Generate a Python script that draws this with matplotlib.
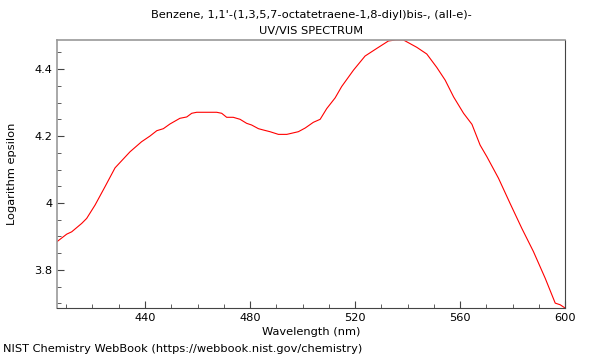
import numpy as np
import matplotlib
matplotlib.use("Agg")
import matplotlib.pyplot as plt
from matplotlib.ticker import MultipleLocator

# spectrum
wavelength = [406.4, 410.2, 412.1, 415.9, 417.8, 421.0, 424.8, 428.6, 434.3, 438.7,
              441.9, 444.5, 447.0, 449.5, 453.3, 455.9, 457.8, 459.7, 467.3, 469.2,
              471.1, 473.6, 476.2, 478.7, 480.6, 483.2, 485.1, 487.6, 490.8, 494.0,
              498.4, 501.0, 504.1, 506.7, 509.2, 512.4, 514.9, 519.4, 523.8, 528.3,
              532.7, 535.5, 538.4, 543.5, 547.3, 551.1, 554.3, 557.5, 561.3, 564.5,
              567.6, 570.2, 574.6, 579.0, 583.5, 587.9, 592.4, 596.2, 598.1, 600.0]
log_eps = [3.884, 3.907, 3.914, 3.939, 3.954, 3.994, 4.049, 4.105, 4.153, 4.183,
           4.200, 4.216, 4.222, 4.236, 4.253, 4.257, 4.268, 4.271, 4.271, 4.268,
           4.256, 4.256, 4.250, 4.238, 4.233, 4.222, 4.218, 4.213, 4.205, 4.205,
           4.213, 4.224, 4.241, 4.250, 4.282, 4.314, 4.348, 4.397, 4.439, 4.462,
           4.484, 4.487, 4.487, 4.465, 4.445, 4.405, 4.367, 4.317, 4.268, 4.235,
           4.173, 4.138, 4.074, 3.999, 3.924, 3.855, 3.775, 3.701, 3.696, 3.686]

title = "Benzene, 1,1'-(1,3,5,7-octatetraene-1,8-diyl)bis-, (all-e)-\nUV/VIS SPECTRUM"
fs = 8.2

fig = plt.figure(figsize=(6, 3.6), dpi=100)
ax = fig.add_axes([0.095, 0.145, 0.847, 0.744])

ax.plot(wavelength, log_eps, color="#ff0000", lw=0.8)
ax.set_xlim(406.5, 600)
ax.set_ylim(3.687, 4.487)

ax.xaxis.set_major_locator(MultipleLocator(40))
ax.xaxis.set_minor_locator(MultipleLocator(10))
ax.yaxis.set_major_locator(MultipleLocator(0.2))
ax.yaxis.set_minor_locator(MultipleLocator(0.05))
ax.yaxis.set_major_formatter(plt.FuncFormatter(lambda v, p: f"{v:g}"))
ax.tick_params(which="both", direction="in", labelsize=fs, color="#444444")
ax.tick_params(which="major", length=5)
ax.tick_params(which="minor", length=3)

for side in ["top", "left"]:
    ax.spines[side].set_color("#999999")
    ax.spines[side].set_linewidth(1.2)
for side in ["bottom", "right"]:
    ax.spines[side].set_color("#444444")

ax.set_title(title, fontsize=fs, linespacing=1.75, pad=4)
ax.set_xlabel("Wavelength (nm)", fontsize=fs, labelpad=3)
ax.set_ylabel("Logarithm epsilon", fontsize=fs)
ax.yaxis.set_label_coords(-0.078, 0.5)
fig.text(0.005, 0.022, "NIST Chemistry WebBook (https://webbook.nist.gov/chemistry)", fontsize=fs)

fig.savefig("out.png", dpi=100)
